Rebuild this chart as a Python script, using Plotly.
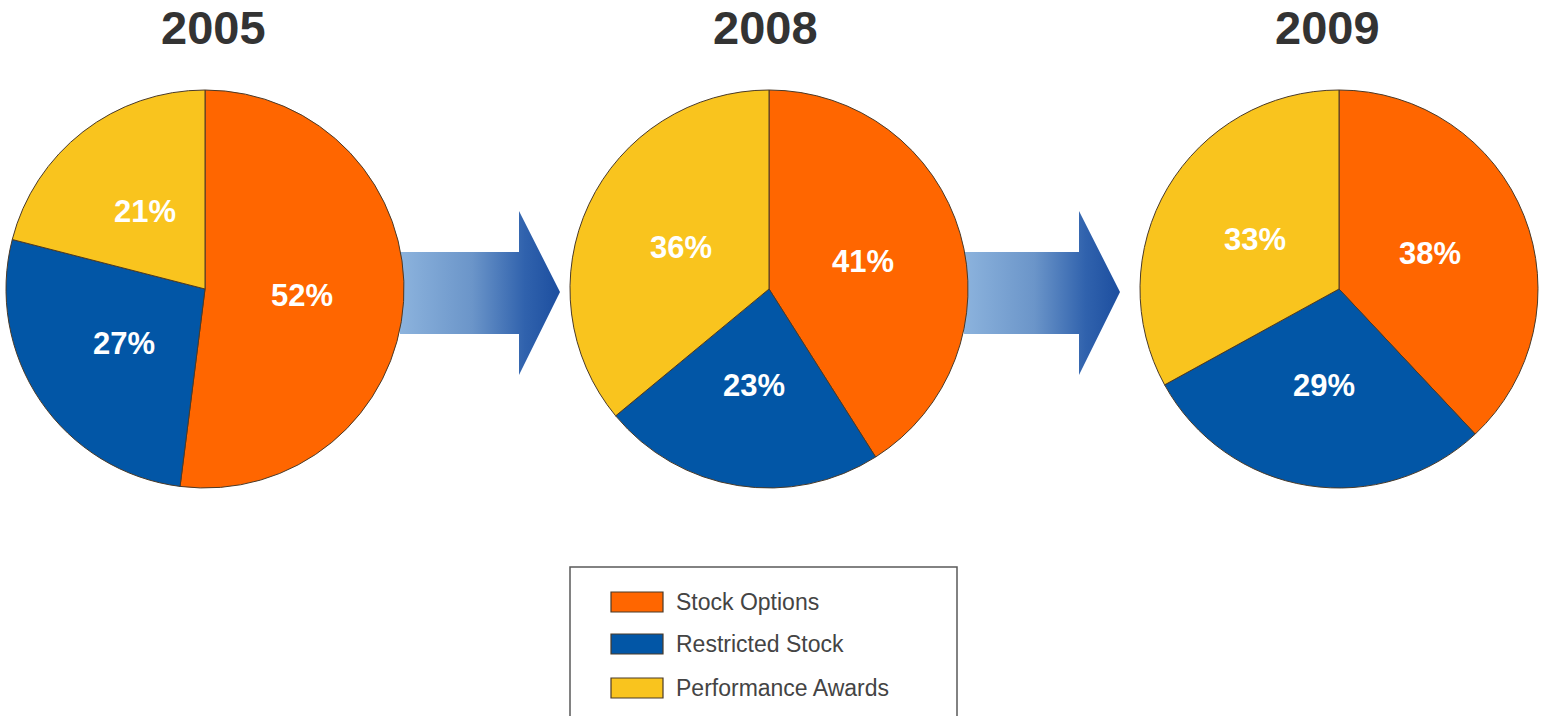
import math
import plotly.graph_objects as go

# Equity compensation mix by year (percent of total)
years = ["2005", "2008", "2009"]
categories = ["Stock Options", "Restricted Stock", "Performance Awards"]
stock_options = [52, 41, 38]
restricted_stock = [27, 23, 29]
performance_awards = [21, 36, 33]

colors = ["#FF6600", "#0256A6", "#F9C41E"]
outline = "#4a3a28"

W, H = 1541, 716
R = 199                       # pie radius in px
centers_x = [205, 769, 1339]  # pie centres in px
center_y = 289
title_x = [213, 765, 1327]
arrow_tips = [560, 1120]      # x of each arrow's point

fig = go.Figure()

# full-canvas pixel axes for arrows, titles and legend
fig.update_layout(
    width=W, height=H, margin=dict(l=0, r=0, t=0, b=0),
    paper_bgcolor="white", plot_bgcolor="white", showlegend=False,
    xaxis=dict(range=[0, W], domain=[0, 1], visible=False, fixedrange=True),
    yaxis=dict(range=[H, 0], domain=[0, 1], visible=False, fixedrange=True),
)

# gradient arrows between consecutive pies
for i, tip in enumerate(arrow_tips):
    x0 = centers_x[i] + R - 4
    head = tip - 41
    xs = [x0, head, head, tip, head, head, x0, x0]
    ys = [center_y - 37, center_y - 37, center_y - 78, center_y + 3,
          center_y + 86, center_y + 45, center_y + 45, center_y - 37]
    fig.add_trace(go.Scatter(
        x=xs, y=ys, mode="lines", fill="toself", line=dict(width=0),
        fillgradient=dict(type="horizontal",
                          colorscale=[[0, "#8cb3dd"], [0.45, "#6b95c9"],
                                      [0.78, "#3062ad"], [1, "#1c4e9f"]]),
        hoverinfo="skip", showlegend=False,
    ))

series = list(zip(stock_options, restricted_stock, performance_awards))
for i, year in enumerate(years):
    vals = list(series[i])
    cx = centers_x[i]
    fig.add_trace(go.Pie(
        values=vals, labels=categories, sort=False, direction="clockwise",
        rotation=0, textinfo="none", hoverinfo="label+percent",
        marker=dict(colors=colors, line=dict(color=outline, width=1)),
        domain=dict(x=[(cx - R) / W, (cx + R) / W],
                    y=[1 - (center_y + R) / H, 1 - (center_y - R) / H]),
        showlegend=False,
    ))
    # percentage labels placed along each slice's mid-angle
    total = sum(vals)
    start = 0.0
    for v in vals:
        span = 360.0 * v / total
        mid = math.radians(start + span / 2)
        start += span
        lx = cx + 0.49 * R * math.sin(mid)
        ly = center_y - 0.49 * R * math.cos(mid)
        fig.add_annotation(x=lx, y=ly, xref="x", yref="y", text=f"{v}%",
                           showarrow=False,
                           font=dict(family="Liberation Sans", size=31,
                                     color="white", weight="bold"))
    fig.add_annotation(x=title_x[i], y=27, xref="x", yref="y", text=year,
                       showarrow=False,
                       font=dict(family="Liberation Sans", size=47,
                                 color="#333333", weight="bold"))

# legend box
fig.add_shape(type="rect", xref="x", yref="y", x0=570, x1=957, y0=567, y1=730,
              line=dict(color="#5a5a5a", width=1.5), fillcolor="white",
              layer="below")
row_y = [602, 644, 688]
for c, name, yy in zip(colors, categories, row_y):
    fig.add_shape(type="rect", xref="x", yref="y", x0=611, x1=663,
                  y0=yy - 10, y1=yy + 10, fillcolor=c,
                  line=dict(color=outline, width=1.2))
    fig.add_annotation(x=674, y=yy, xref="x", yref="y", text=name,
                       showarrow=False, xanchor="left",
                       font=dict(family="Liberation Sans", size=23,
                                 color="#444444"))

fig.write_html("out.html")
